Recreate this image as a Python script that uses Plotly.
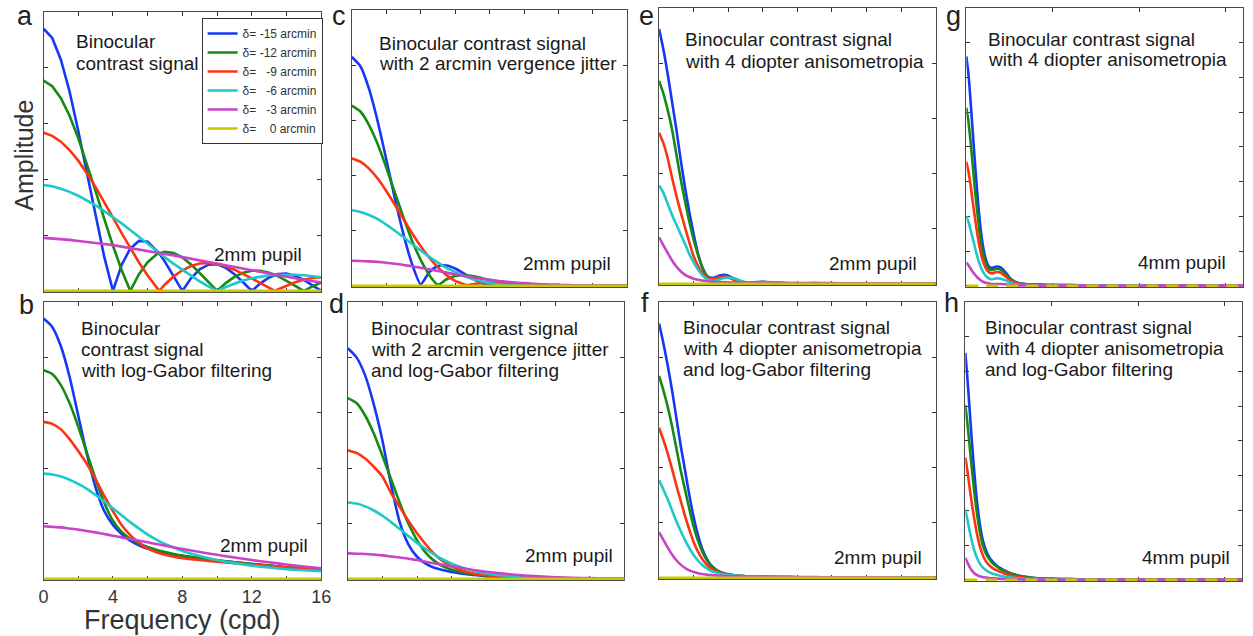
import plotly.graph_objects as go

# ---------------- frequency grids (cpd) ----------------
GRID_AC = [0, 0.5, 1, 1.5, 2, 2.5, 3, 3.5, 4, 4.5, 5, 5.5, 6, 6.5, 6.67, 7, 7.5, 8, 8.5, 9, 9.5,
           10, 10.5, 11, 11.5, 12, 12.5, 13, 13.33, 13.5, 14, 14.5, 15, 15.5, 16]
GRID_BD = [0, 0.5, 1, 1.5, 2, 2.5, 3, 3.5, 4, 4.5, 5, 5.5, 6, 6.5, 7, 7.5, 8, 9, 10, 11, 12, 13, 14, 15, 16]
GRID_EF = [0, 0.25, 0.5, 0.75, 1, 1.25, 1.5, 1.75, 2, 2.25, 2.5, 2.75, 3, 3.25, 3.5, 3.75, 4, 4.25, 4.5,
           4.75, 5, 5.5, 6, 6.5, 7, 8, 9, 10, 11, 12, 13, 14, 15, 16]
GRID_GH = [0, 0.125, 0.25, 0.375, 0.5, 0.625, 0.75, 0.875, 1, 1.125, 1.25, 1.375, 1.5, 1.75, 2, 2.25,
           2.5, 2.75, 3, 3.5, 4, 5, 6, 7, 8, 10, 12, 14, 16]
DELTA0_X = [0, 16]
DELTA0_Y = [0, 0]

SERIES_NAMES = ["δ= -15 arcmin", "δ= -12 arcmin", "δ= \u2007-9 arcmin",
                "δ= \u2007-6 arcmin", "δ= \u2007-3 arcmin", "δ= \u2008\u20070 arcmin"]

# ---------------- panel a: binocular contrast signal ----------------
A_BLUE = [0.940, 0.907, 0.829, 0.715, 0.574, 0.420, 0.265, 0.122, 0.000, 0.093, 0.152, 0.179, 0.176, 0.148,
          0.135, 0.104, 0.052, 0.000, 0.045, 0.077, 0.094, 0.096, 0.083, 0.060, 0.031, 0.000, 0.027, 0.048,
          0.057, 0.060, 0.062, 0.054, 0.039, 0.020, 0.000]
A_GREEN = [0.754, 0.734, 0.691, 0.628, 0.548, 0.456, 0.358, 0.258, 0.162, 0.075, 0.000, 0.060, 0.103, 0.130,
           0.135, 0.140, 0.136, 0.120, 0.095, 0.064, 0.032, 0.000, 0.028, 0.050, 0.065, 0.072, 0.072, 0.065,
           0.057, 0.053, 0.036, 0.018, 0.000, 0.016, 0.030]
A_RED = [0.567, 0.556, 0.535, 0.505, 0.467, 0.422, 0.372, 0.319, 0.263, 0.207, 0.153, 0.102, 0.055, 0.013,
         0.000, 0.023, 0.052, 0.074, 0.089, 0.098, 0.100, 0.096, 0.088, 0.076, 0.061, 0.045, 0.028, 0.011,
         0.000, 0.005, 0.019, 0.031, 0.040, 0.046, 0.049]
A_CYAN = [0.380, 0.375, 0.366, 0.355, 0.341, 0.325, 0.307, 0.286, 0.265, 0.242, 0.218, 0.193, 0.169, 0.144,
          0.136, 0.120, 0.097, 0.075, 0.054, 0.034, 0.016, 0.000, 0.014, 0.026, 0.037, 0.045, 0.051, 0.056,
          0.058, 0.058, 0.059, 0.058, 0.056, 0.053, 0.049]
A_MAGENTA = [0.190, 0.188, 0.185, 0.183, 0.179, 0.176, 0.172, 0.168, 0.164, 0.159, 0.154, 0.149, 0.144, 0.138,
             0.136, 0.132, 0.127, 0.121, 0.115, 0.109, 0.103, 0.097, 0.091, 0.085, 0.079, 0.073, 0.067, 0.061,
             0.058, 0.056, 0.050, 0.045, 0.040, 0.035, 0.030]

# ---------------- panel b: with log-Gabor filtering ----------------
B_BLUE = [0.940, 0.910, 0.840, 0.730, 0.590, 0.450, 0.330, 0.245, 0.195, 0.162, 0.138, 0.121, 0.109, 0.100,
          0.094, 0.088, 0.083, 0.074, 0.066, 0.060, 0.054, 0.048, 0.042, 0.037, 0.033]
B_GREEN = [0.754, 0.740, 0.700, 0.635, 0.550, 0.455, 0.360, 0.275, 0.210, 0.170, 0.145, 0.128, 0.115, 0.105,
           0.097, 0.090, 0.084, 0.075, 0.067, 0.060, 0.054, 0.048, 0.042, 0.037, 0.033]
B_RED = [0.567, 0.560, 0.540, 0.505, 0.462, 0.415, 0.360, 0.300, 0.245, 0.195, 0.158, 0.130, 0.110, 0.096,
         0.087, 0.080, 0.075, 0.068, 0.062, 0.057, 0.052, 0.047, 0.042, 0.037, 0.033]
B_CYAN = [0.380, 0.377, 0.370, 0.358, 0.343, 0.325, 0.303, 0.280, 0.255, 0.230, 0.205, 0.182, 0.160, 0.142,
          0.126, 0.113, 0.101, 0.083, 0.068, 0.057, 0.048, 0.041, 0.035, 0.031, 0.028]
B_MAGENTA = [0.190, 0.188, 0.186, 0.182, 0.178, 0.173, 0.168, 0.162, 0.156, 0.150, 0.144, 0.138, 0.132, 0.126,
             0.120, 0.114, 0.108, 0.097, 0.087, 0.077, 0.068, 0.060, 0.052, 0.045, 0.038]

# ---------------- panel c: 2 arcmin vergence jitter ----------------
C_BLUE = [0.830, 0.796, 0.714, 0.597, 0.459, 0.317, 0.187, 0.079, 0.006, 0.050, 0.072, 0.074, 0.063, 0.045,
          0.039, 0.027, 0.011, 0.002, 0.006, 0.009, 0.009, 0.007, 0.005, 0.003, 0.001, 0.000, 0.000, 0.000,
          0.000, 0.000, 0.000, 0.000, 0.000, 0.000, 0.000]
C_GREEN = [0.653, 0.632, 0.583, 0.514, 0.429, 0.338, 0.248, 0.164, 0.094, 0.039, 0.004, 0.024, 0.036, 0.039,
           0.038, 0.036, 0.029, 0.021, 0.014, 0.007, 0.003, 0.001, 0.001, 0.000, 0.000, 0.000, 0.000, 0.000,
           0.000, 0.000, 0.000, 0.000, 0.000, 0.000, 0.000]
C_RED = [0.462, 0.450, 0.425, 0.389, 0.344, 0.294, 0.242, 0.191, 0.144, 0.102, 0.067, 0.039, 0.018, 0.006,
         0.003, 0.006, 0.010, 0.012, 0.012, 0.011, 0.009, 0.006, 0.005, 0.003, 0.002, 0.001, 0.000, 0.000,
         0.000, 0.000, 0.000, 0.000, 0.000, 0.000, 0.000]
C_CYAN = [0.274, 0.268, 0.257, 0.242, 0.222, 0.200, 0.177, 0.152, 0.128, 0.105, 0.084, 0.065, 0.050, 0.036,
          0.032, 0.025, 0.017, 0.011, 0.006, 0.003, 0.001, 0.000, 0.000, 0.000, 0.000, 0.000, 0.000, 0.000,
          0.000, 0.000, 0.000, 0.000, 0.000, 0.000, 0.000]
C_MAGENTA = [0.091, 0.090, 0.089, 0.087, 0.084, 0.080, 0.076, 0.071, 0.066, 0.060, 0.054, 0.048, 0.042, 0.037,
             0.035, 0.031, 0.026, 0.022, 0.018, 0.015, 0.012, 0.010, 0.008, 0.006, 0.005, 0.004, 0.003, 0.002,
             0.002, 0.002, 0.001, 0.001, 0.001, 0.000, 0.000]

# ---------------- panel d: vergence jitter + log-Gabor ----------------
D_BLUE = [0.833, 0.800, 0.735, 0.630, 0.500, 0.340, 0.205, 0.125, 0.080, 0.055, 0.040, 0.032, 0.025, 0.020,
          0.016, 0.013, 0.010, 0.007, 0.005, 0.004, 0.003, 0.002, 0.002, 0.001, 0.001]
D_GREEN = [0.653, 0.635, 0.590, 0.525, 0.445, 0.360, 0.275, 0.200, 0.140, 0.095, 0.065, 0.045, 0.033, 0.025,
           0.019, 0.015, 0.012, 0.008, 0.005, 0.004, 0.003, 0.002, 0.002, 0.001, 0.001]
D_RED = [0.465, 0.455, 0.435, 0.405, 0.370, 0.310, 0.260, 0.210, 0.165, 0.125, 0.090, 0.064, 0.045, 0.032,
         0.023, 0.017, 0.013, 0.008, 0.005, 0.004, 0.003, 0.002, 0.002, 0.001, 0.001]
D_CYAN = [0.276, 0.272, 0.262, 0.247, 0.228, 0.205, 0.180, 0.155, 0.130, 0.108, 0.088, 0.070, 0.055, 0.043,
          0.033, 0.026, 0.020, 0.012, 0.007, 0.005, 0.003, 0.002, 0.002, 0.001, 0.001]
D_MAGENTA = [0.092, 0.091, 0.090, 0.088, 0.085, 0.081, 0.077, 0.073, 0.068, 0.062, 0.056, 0.051, 0.045, 0.040,
             0.035, 0.030, 0.026, 0.019, 0.013, 0.009, 0.006, 0.004, 0.003, 0.002, 0.001]

# ---------------- panel e: 4 D anisometropia, 2 mm pupil ----------------
E_BLUE = [0.924, 0.850, 0.760, 0.660, 0.560, 0.450, 0.350, 0.260, 0.180, 0.110, 0.060, 0.030, 0.022, 0.024,
          0.030, 0.033, 0.030, 0.022, 0.013, 0.006, 0.004, 0.006, 0.008, 0.006, 0.003, 0.002, 0.003, 0.002,
          0.002, 0.002, 0.001, 0.001, 0.001, 0.001]
E_GREEN = [0.736, 0.690, 0.630, 0.560, 0.470, 0.380, 0.300, 0.225, 0.160, 0.105, 0.060, 0.030, 0.020, 0.020,
           0.025, 0.028, 0.026, 0.019, 0.011, 0.005, 0.003, 0.005, 0.007, 0.005, 0.003, 0.002, 0.002, 0.002,
           0.002, 0.001, 0.001, 0.001, 0.001, 0.001]
E_RED = [0.548, 0.510, 0.455, 0.385, 0.320, 0.260, 0.205, 0.150, 0.100, 0.065, 0.040, 0.024, 0.018, 0.019,
         0.023, 0.025, 0.023, 0.017, 0.010, 0.005, 0.003, 0.004, 0.005, 0.004, 0.002, 0.002, 0.002, 0.002,
         0.001, 0.001, 0.001, 0.001, 0.001, 0.001]
E_CYAN = [0.357, 0.330, 0.290, 0.250, 0.215, 0.180, 0.145, 0.108, 0.078, 0.052, 0.032, 0.018, 0.012, 0.012,
          0.016, 0.021, 0.023, 0.021, 0.017, 0.011, 0.006, 0.004, 0.006, 0.006, 0.004, 0.002, 0.002, 0.002,
          0.001, 0.001, 0.001, 0.001, 0.001, 0.001]
E_MAGENTA = [0.169, 0.140, 0.112, 0.085, 0.063, 0.046, 0.033, 0.025, 0.019, 0.015, 0.012, 0.010, 0.008, 0.007,
             0.006, 0.006, 0.005, 0.005, 0.006, 0.006, 0.005, 0.004, 0.004, 0.004, 0.004, 0.003, 0.003, 0.003,
             0.002, 0.002, 0.002, 0.002, 0.001, 0.001]

# ---------------- panel f: anisometropia + log-Gabor, 2 mm pupil ----------------
F_BLUE = [0.922, 0.850, 0.770, 0.680, 0.580, 0.480, 0.390, 0.300, 0.220, 0.155, 0.105, 0.070, 0.046, 0.032,
          0.023, 0.017, 0.013, 0.010, 0.008, 0.007, 0.006, 0.005, 0.004, 0.0035, 0.003, 0.0025, 0.002, 0.002,
          0.002, 0.0015, 0.0015, 0.001, 0.001, 0.001]
F_GREEN = [0.732, 0.680, 0.620, 0.550, 0.470, 0.390, 0.320, 0.250, 0.185, 0.135, 0.095, 0.065, 0.044, 0.031,
           0.022, 0.016, 0.012, 0.010, 0.008, 0.007, 0.006, 0.005, 0.004, 0.0035, 0.003, 0.0025, 0.002, 0.002,
           0.002, 0.0015, 0.0015, 0.001, 0.001, 0.001]
F_RED = [0.544, 0.500, 0.450, 0.395, 0.335, 0.280, 0.225, 0.175, 0.130, 0.095, 0.068, 0.048, 0.034, 0.025,
         0.019, 0.015, 0.012, 0.010, 0.008, 0.007, 0.006, 0.005, 0.004, 0.0035, 0.003, 0.0025, 0.002, 0.002,
         0.002, 0.0015, 0.0015, 0.001, 0.001, 0.001]
F_CYAN = [0.355, 0.320, 0.285, 0.245, 0.205, 0.170, 0.137, 0.108, 0.083, 0.063, 0.047, 0.035, 0.026, 0.020,
          0.016, 0.013, 0.011, 0.009, 0.008, 0.007, 0.006, 0.005, 0.004, 0.0035, 0.003, 0.0025, 0.002, 0.002,
          0.002, 0.0015, 0.0015, 0.001, 0.001, 0.001]
F_MAGENTA = [0.166, 0.138, 0.110, 0.085, 0.064, 0.048, 0.036, 0.027, 0.021, 0.017, 0.014, 0.012, 0.010, 0.009,
             0.008, 0.007, 0.007, 0.006, 0.006, 0.005, 0.005, 0.004, 0.004, 0.004, 0.003, 0.003, 0.003, 0.002,
             0.002, 0.002, 0.002, 0.001, 0.001, 0.001]

# ---------------- panel g: anisometropia, 4 mm pupil ----------------
G_BLUE = [0.826, 0.760, 0.660, 0.550, 0.440, 0.340, 0.250, 0.180, 0.130, 0.095, 0.075, 0.066, 0.065, 0.070,
          0.066, 0.050, 0.030, 0.017, 0.010, 0.006, 0.005, 0.003, 0.003, 0.002, 0.002, 0.001, 0.001, 0.001, 0.001]
G_GREEN = [0.641, 0.590, 0.515, 0.430, 0.345, 0.270, 0.200, 0.145, 0.108, 0.082, 0.066, 0.058, 0.057, 0.062,
           0.058, 0.044, 0.027, 0.015, 0.009, 0.006, 0.005, 0.003, 0.003, 0.002, 0.002, 0.001, 0.001, 0.001, 0.001]
G_RED = [0.447, 0.410, 0.360, 0.300, 0.245, 0.190, 0.145, 0.108, 0.082, 0.064, 0.052, 0.046, 0.045, 0.050,
         0.047, 0.035, 0.022, 0.013, 0.008, 0.005, 0.004, 0.003, 0.002, 0.002, 0.001, 0.001, 0.001, 0.001, 0.001]
G_CYAN = [0.251, 0.230, 0.200, 0.170, 0.138, 0.108, 0.082, 0.062, 0.047, 0.036, 0.029, 0.025, 0.024, 0.027,
          0.026, 0.020, 0.013, 0.008, 0.005, 0.003, 0.002, 0.002, 0.001, 0.001, 0.001, 0.001, 0.000, 0.000, 0.000]
G_MAGENTA = [0.084, 0.074, 0.062, 0.050, 0.040, 0.031, 0.024, 0.018, 0.014, 0.011, 0.009, 0.008, 0.007, 0.007,
             0.007, 0.006, 0.004, 0.003, 0.002, 0.002, 0.001, 0.001, 0.001, 0.001, 0.000, 0.000, 0.000, 0.000, 0.000]

# ---------------- panel h: anisometropia + log-Gabor, 4 mm pupil ----------------
H_BLUE = [0.817, 0.720, 0.610, 0.500, 0.400, 0.310, 0.240, 0.185, 0.145, 0.118, 0.098, 0.083, 0.071, 0.055,
          0.043, 0.034, 0.027, 0.021, 0.017, 0.011, 0.007, 0.004, 0.003, 0.002, 0.002, 0.001, 0.001, 0.001, 0.001]
H_GREEN = [0.630, 0.560, 0.480, 0.400, 0.325, 0.260, 0.205, 0.160, 0.127, 0.104, 0.087, 0.075, 0.065, 0.051,
           0.040, 0.032, 0.025, 0.020, 0.016, 0.010, 0.007, 0.004, 0.003, 0.002, 0.002, 0.001, 0.001, 0.001, 0.001]
H_RED = [0.441, 0.390, 0.330, 0.275, 0.225, 0.180, 0.143, 0.113, 0.090, 0.074, 0.062, 0.053, 0.046, 0.036,
         0.029, 0.023, 0.018, 0.014, 0.011, 0.007, 0.005, 0.003, 0.002, 0.002, 0.001, 0.001, 0.001, 0.001, 0.001]
H_CYAN = [0.253, 0.215, 0.175, 0.140, 0.110, 0.087, 0.069, 0.055, 0.045, 0.038, 0.032, 0.028, 0.024, 0.019,
          0.015, 0.012, 0.010, 0.008, 0.006, 0.004, 0.003, 0.002, 0.001, 0.001, 0.001, 0.000, 0.000, 0.000, 0.000]
H_MAGENTA = [0.080, 0.062, 0.046, 0.034, 0.025, 0.019, 0.015, 0.012, 0.010, 0.009, 0.008, 0.007, 0.006, 0.005,
             0.004, 0.003, 0.003, 0.002, 0.002, 0.001, 0.001, 0.001, 0.000, 0.000, 0.000, 0.000, 0.000, 0.000, 0.000]

# ---------------- texts ----------------
PANEL_LETTERS = ["a", "b", "c", "d", "e", "f", "g", "h"]
PANEL_TEXT = [
    ["Binocular", "contrast signal"],
    ["Binocular", "contrast signal", "with log-Gabor filtering"],
    ["Binocular contrast signal", "with 2 arcmin vergence jitter"],
    ["Binocular contrast signal", "with 2 arcmin vergence jitter", "and log-Gabor filtering"],
    ["Binocular contrast signal", "with 4 diopter anisometropia"],
    ["Binocular contrast signal", "with 4 diopter anisometropia", "and log-Gabor filtering"],
    ["Binocular contrast signal", "with 4 diopter anisometropia"],
    ["Binocular contrast signal", "with 4 diopter anisometropia", "and log-Gabor filtering"],
]
PUPIL_TEXT = ["2mm pupil", "2mm pupil", "2mm pupil", "2mm pupil", "2mm pupil", "2mm pupil", "4mm pupil", "4mm pupil"]
X_TICK_LABELS = ["0", "", "4", "", "8", "", "12", "", "16"]

# ---------------- styling / layout (pixels) ----------------
W, H = 1253, 636
COLORS = ["#1538f5", "#158a15", "#fa3514", "#1ec8c8", "#c843c8", "#c8c800"]
FONT = "Liberation Sans, Arial, Helvetica, sans-serif"
TXT = "#1a1a1a"

BOXES = [(39, 320, 12, 292), (39, 320, 302, 580), (351, 630, 10, 287), (347, 627, 302, 580),
         (662, 942, 8, 285), (662, 942, 302, 579), (973, 1253, 8, 287), (972, 1252, 302, 581)]
LETTER_POS = [(20, 0), (22, 289), (338, 0), (336, 288), (649, 0), (648, 287), (960, 0), (958, 287)]
TEXT_POS = [(70, 42), (75, 328), (377, 43), (368, 328), (686, 40), (684, 327), (993, 39), (990, 327)]
PUPIL_POS = [(210, 255), (216, 545), (522, 263), (524, 555), (832, 263), (837, 557), (1145, 262), (1149, 557)]
SPLINE_PANELS = [False, True, True, True, True, True, True, True]

PANEL_DATA = [
    (GRID_AC, [A_BLUE, A_GREEN, A_RED, A_CYAN, A_MAGENTA]),
    (GRID_BD, [B_BLUE, B_GREEN, B_RED, B_CYAN, B_MAGENTA]),
    (GRID_AC, [C_BLUE, C_GREEN, C_RED, C_CYAN, C_MAGENTA]),
    (GRID_BD, [D_BLUE, D_GREEN, D_RED, D_CYAN, D_MAGENTA]),
    (GRID_EF, [E_BLUE, E_GREEN, E_RED, E_CYAN, E_MAGENTA]),
    (GRID_EF, [F_BLUE, F_GREEN, F_RED, F_CYAN, F_MAGENTA]),
    (GRID_GH, [G_BLUE, G_GREEN, G_RED, G_CYAN, G_MAGENTA]),
    (GRID_GH, [H_BLUE, H_GREEN, H_RED, H_CYAN, H_MAGENTA]),
]


def px(x):
    return x / W


def py(y):
    return 1 - y / H


fig = go.Figure()
layout = dict(width=W, height=H, margin=dict(l=0, r=0, t=0, b=0), paper_bgcolor="white",
              plot_bgcolor="white", font=dict(family=FONT, color=TXT), showlegend=True)

annotations = []
for i, (grid, series) in enumerate(PANEL_DATA):
    n = i + 1
    xa = "x" if n == 1 else f"x{n}"
    ya = "y" if n == 1 else f"y{n}"
    shape = "spline" if SPLINE_PANELS[i] else "linear"
    for k, vals in enumerate(series):
        line = dict(color=COLORS[k], width=2.6, shape=shape)
        if shape == "spline":
            line["smoothing"] = 0.6
        fig.add_trace(go.Scatter(x=grid, y=vals, mode="lines", name=SERIES_NAMES[k],
                                 line=line, xaxis=xa, yaxis=ya,
                                 showlegend=(i == 0), hoverinfo="skip"))
    dash = "solid" if i < 6 else "12px,8px"
    fig.add_trace(go.Scatter(x=DELTA0_X, y=DELTA0_Y, mode="lines", name=SERIES_NAMES[5],
                             line=dict(color=COLORS[5], width=2.6, dash=dash), xaxis=xa, yaxis=ya,
                             showlegend=(i == 0), hoverinfo="skip"))

    x0, x1, y0, y1 = BOXES[i]
    big_ticks = i >= 6
    xtv = [0, 5, 10, 15] if big_ticks else [0, 2, 4, 6, 8, 10, 12, 14, 16]
    ytv = [j / 8 for j in range(9)] if big_ticks else [j / 5 for j in range(6)]
    xkey = "xaxis" if n == 1 else f"xaxis{n}"
    ykey = "yaxis" if n == 1 else f"yaxis{n}"
    common = dict(showline=True, mirror="ticks", linecolor="#4a4a4a", linewidth=1.2, ticks="inside",
                  ticklen=4, tickwidth=1, tickcolor="#333", showgrid=False, zeroline=False,
                  layer="below traces", fixedrange=True)
    xaxis = dict(common, domain=[px(x0), px(x1)], range=[0, 16], tickvals=xtv, anchor=ya)
    if i == 1:
        xaxis.update(showticklabels=True, ticktext=X_TICK_LABELS,
                     tickfont=dict(size=18, color="#333", family=FONT))
    else:
        xaxis.update(showticklabels=False)
    yaxis = dict(common, domain=[py(y1), py(y0)], range=[-0.004, 1], tickvals=ytv,
                 showticklabels=False, anchor=xa)
    layout[xkey] = xaxis
    layout[ykey] = yaxis

    lx, ly = LETTER_POS[i]
    annotations.append(dict(text=PANEL_LETTERS[i], x=px(lx), y=py(ly), xref="paper", yref="paper",
                            xanchor="center", yanchor="top", showarrow=False, borderpad=0,
                            font=dict(size=27, color="#222", family=FONT)))
    tx, ty = TEXT_POS[i]
    for j, line in enumerate(PANEL_TEXT[i]):
        annotations.append(dict(text=line, x=px(tx), y=py(ty + 21 * j), xref="paper", yref="paper",
                                xanchor="left", yanchor="middle", showarrow=False,
                                font=dict(size=19, color=TXT, family=FONT)))
    ux, uy = PUPIL_POS[i]
    annotations.append(dict(text=PUPIL_TEXT[i], x=px(ux), y=py(uy), xref="paper", yref="paper",
                            xanchor="left", yanchor="middle", showarrow=False,
                            font=dict(size=19, color=TXT, family=FONT)))

annotations.append(dict(text="Amplitude", x=px(19), y=py(155), xref="paper", yref="paper",
                        xanchor="center", yanchor="middle", textangle=-90, showarrow=False,
                        font=dict(size=25, color="#333", family=FONT)))
annotations.append(dict(text="Frequency (cpd)", x=px(180), y=py(636), xref="paper", yref="paper",
                        xanchor="center", yanchor="bottom", showarrow=False, borderpad=0,
                        font=dict(size=27, color="#333", family=FONT)))

layout["annotations"] = annotations
layout["legend"] = dict(x=px(199), y=py(18), xanchor="left", yanchor="top", bordercolor="#333",
                        borderwidth=1, bgcolor="white", tracegroupgap=0,
                        font=dict(size=12, color="#333", family=FONT))
fig.update_layout(**layout)
fig.write_html("out.html", config={"displayModeBar": False},
               post_script="document.body.style.margin='0';document.body.style.overflow='hidden';")
